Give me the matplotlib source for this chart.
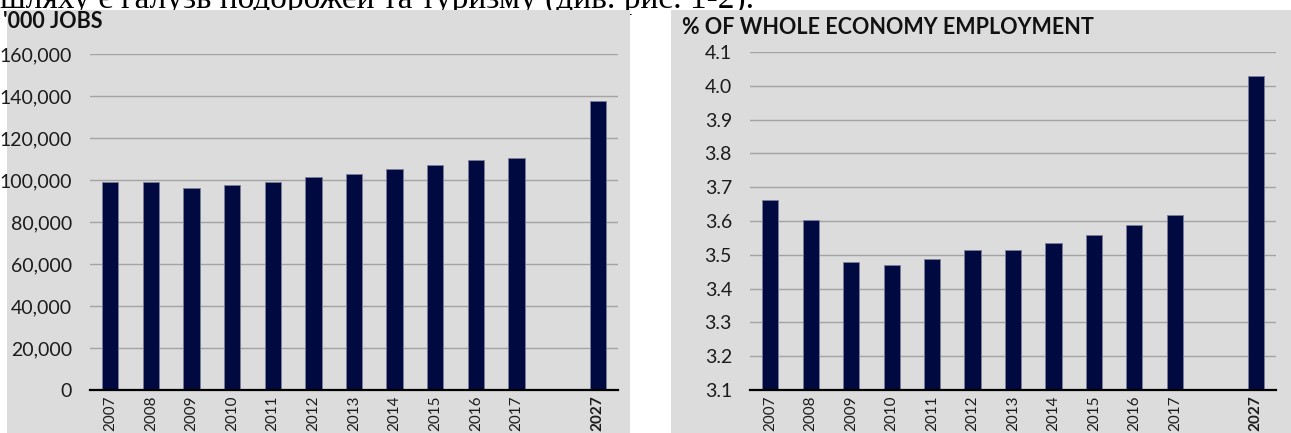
import matplotlib
matplotlib.use("Agg")
import matplotlib.pyplot as plt
from matplotlib.patches import Rectangle
from matplotlib.ticker import FuncFormatter

# --- data ---
years = ["2007", "2008", "2009", "2010", "2011", "2012", "2013",
         "2014", "2015", "2016", "2017", "2027"]
positions = [0, 1, 2, 3, 4, 5, 6, 7, 8, 9, 10, 12]
jobs = [99100, 99100, 96300, 97700, 99000, 101500, 103000,
        105000, 107000, 109300, 110400, 137500]
share = [3.661, 3.604, 3.479, 3.470, 3.487, 3.515, 3.515,
         3.535, 3.560, 3.589, 3.619, 4.029]

BAR = "#000a40"
PANEL = "#dcdcdc"
GRID = "#a3a3a3"
TEXT = "#1c1c1c"

plt.rcParams["font.family"] = ["Lato", "DejaVu Sans"]

W, H = 1291, 433
fig = plt.figure(figsize=(W / 100, H / 100), dpi=100)
fig.patch.set_facecolor("white")


def px(x0, y0, x1, y1):
    """pixel box (top-left origin) -> figure fraction rect"""
    return [x0 / W, 1 - y1 / H, (x1 - x0) / W, (y1 - y0) / H]


# grey panels behind each chart
for x0, x1 in [(7, 630), (671, 1291)]:
    r = px(x0, 9.5, x1, H)
    fig.add_artist(Rectangle((r[0], r[1]), r[2], r[3], transform=fig.transFigure,
                             facecolor=PANEL, edgecolor="none", zorder=1))

# cut-off line of body text above the charts (panels hide its descenders)
fig.text(0 / W, 1 - 8 / H, "шляху є галузь подорожей та туризму (див. рис. 1-2).",
         family="Liberation Serif", fontsize=24, color="black",
         ha="left", va="baseline", zorder=0)


def draw(rect, values, ylim, step, fmt, title, title_xy):
    ax = fig.add_axes(px(*rect))
    ax.set_zorder(2)
    ax.set_facecolor("none")
    ax.bar(positions, values, width=0.4, color=BAR, edgecolor="#7d7f99",
           linewidth=0.6, zorder=3)
    ax.set_xlim(-0.5, 12.5)
    ax.set_ylim(*ylim)
    ticks = [ylim[0] + i * step for i in range(int(round((ylim[1] - ylim[0]) / step)) + 1)]
    ax.set_yticks(ticks)
    ax.yaxis.set_major_formatter(FuncFormatter(fmt))
    for t in ticks[1:]:
        ax.axhline(t, color=GRID, linewidth=1, zorder=1)
    for s in ["left", "right", "top"]:
        ax.spines[s].set_visible(False)
    ax.spines["bottom"].set_color("black")
    ax.spines["bottom"].set_linewidth(1.6)
    ax.spines["bottom"].set_zorder(4)
    ax.tick_params(axis="y", length=0, pad=13, labelsize=14, labelcolor=TEXT)
    ax.tick_params(axis="x", length=0, pad=4, labelsize=11, labelcolor=TEXT)
    ax.set_xticks(positions)
    ax.set_xticklabels(years, rotation=90, va="top", ha="center")
    ax.get_xticklabels()[-1].set_fontweight("bold")
    fig.text(title_xy[0] / W, 1 - title_xy[1] / H, title, fontsize=15.5,
             fontweight="bold", color="#111111", ha="left", va="top", zorder=5)
    return ax


draw((90, 54, 618, 390), jobs, (0, 160000), 20000,
     lambda v, p: f"{v:,.0f}", "'000 JOBS", (3, 11))
draw((750, 52, 1276, 390), share, (3.1, 4.1), 0.1,
     lambda v, p: f"{v:.1f}", "% OF WHOLE ECONOMY EMPLOYMENT", (682, 17))

fig.savefig("out.png", dpi=100)
